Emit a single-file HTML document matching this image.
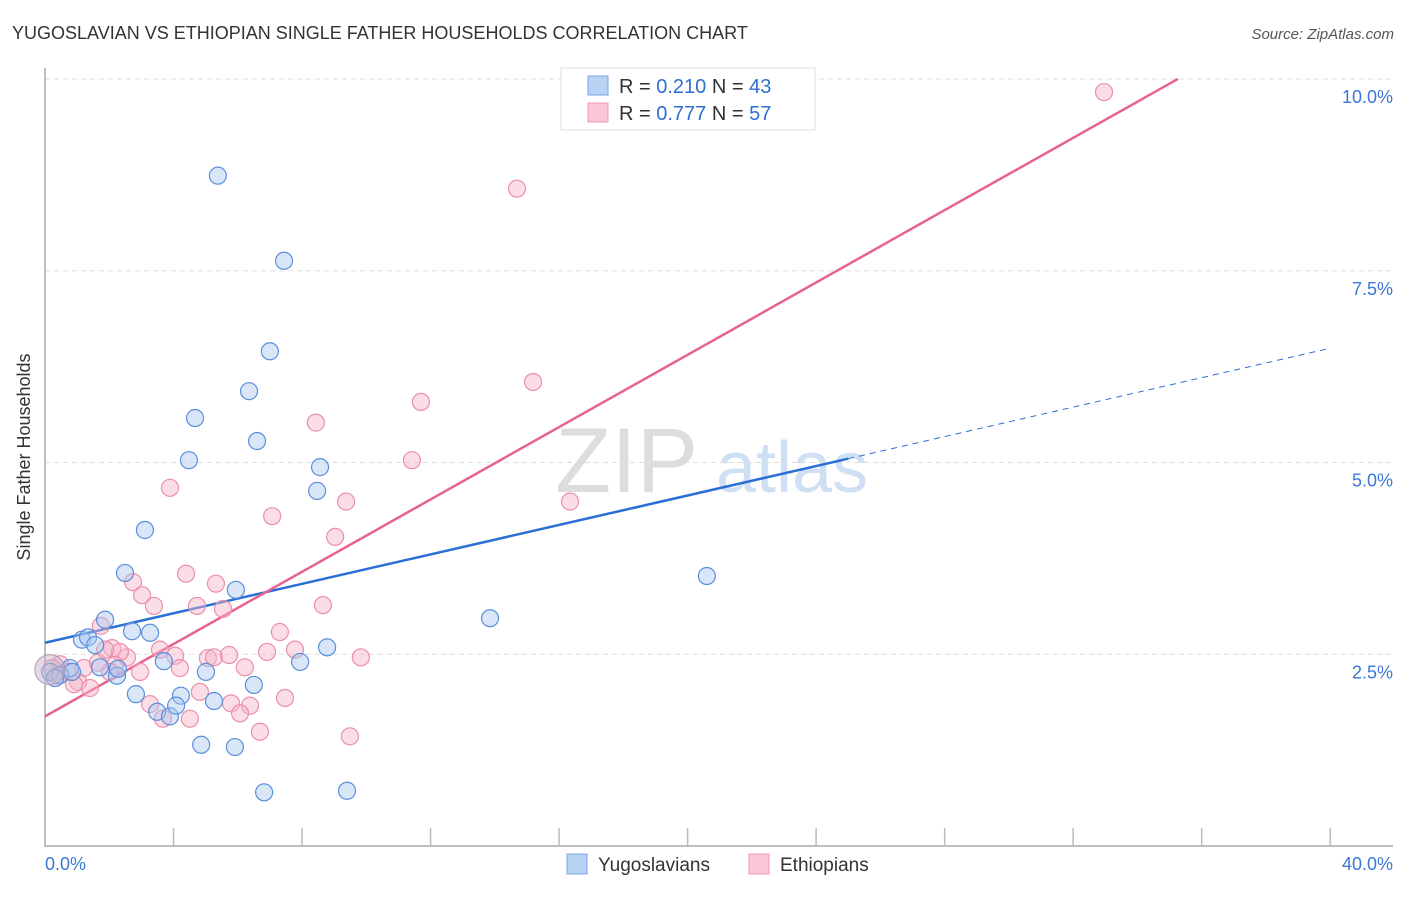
<!DOCTYPE html>
<html><head><meta charset="utf-8"><style>
body{margin:0;background:#fff;font-family:"Liberation Sans",sans-serif}
svg text{font-family:"Liberation Sans",sans-serif}
</style></head><body>
<svg id="chart" width="1406" height="892">
<text x="12" y="39" font-size="18" fill="#333">YUGOSLAVIAN VS ETHIOPIAN SINGLE FATHER HOUSEHOLDS CORRELATION CHART</text>
<text x="1394" y="39" font-size="15" fill="#555" font-style="italic" text-anchor="end">Source: ZipAtlas.com</text>
<text x="30" y="457" font-size="18" fill="#333" text-anchor="middle" transform="rotate(-90 30 457)">Single Father Households</text>
<g>
<text x="555" y="492" font-size="92" font-family="Liberation Serif" fill="#ddd">ZIP</text>
<text x="716" y="492" font-size="72" fill="#cfe0f4">atlas</text>
</g>
<g id="grid"></g><g id="axes"></g><g id="lines"></g><g id="pts"></g>
<g>
<rect x="561" y="68" width="254" height="62" fill="#fff" stroke="#ddd"/>
<rect x="588" y="76" width="20" height="19" fill="#b9d3f5" stroke="#7aa6e0"/>
<rect x="588" y="103" width="20" height="19" fill="#fbc7d6" stroke="#ef98b2"/>
<text x="619" y="93" font-size="20" fill="#333">R = <tspan fill="#2f6fd0">0.210</tspan>   N = <tspan fill="#2f6fd0">43</tspan></text>
<text x="619" y="120" font-size="20" fill="#333">R = <tspan fill="#2f6fd0">0.777</tspan>   N = <tspan fill="#2f6fd0">57</tspan></text>
</g>
<g>
<rect x="567" y="854" width="20" height="20" fill="#b9d3f5" stroke="#7aa6e0"/>
<text x="598" y="871" font-size="19" fill="#333">Yugoslavians</text>
<rect x="749" y="854" width="20" height="20" fill="#fbc7d6" stroke="#ef98b2"/>
<text x="780" y="871" font-size="19" fill="#333">Ethiopians</text>
</g>
</svg>
<script>
const yTicks=[2.5,5,7.5,10];
const yTickLabels=["2.5%","5.0%","7.5%","10.0%"];
const xTickLabels=["0.0%","40.0%"];
const blueX=[5.38,7.44,7.00,6.35,4.67,6.60,4.48,8.56,8.47,3.11,2.49,5.94,20.60,1.87,13.85,2.71,3.27,1.15,1.34,1.56,8.78,3.70,7.94,0.78,1.71,2.24,5.01,0.16,0.47,0.31,2.83,4.23,6.50,5.26,3.49,3.89,4.08,4.86,5.91,6.82,9.40,2.27,0.84];
const blueY=[8.74,7.63,6.45,5.93,5.58,5.28,5.03,4.94,4.63,4.12,3.56,3.34,3.52,2.95,2.97,2.80,2.78,2.69,2.72,2.62,2.59,2.41,2.40,2.32,2.33,2.22,2.27,2.27,2.23,2.19,1.98,1.96,2.10,1.89,1.75,1.69,1.83,1.32,1.29,0.70,0.72,2.31,2.27];
const pinkX=[32.96,14.69,15.19,11.70,8.43,11.42,3.89,9.37,16.34,7.07,9.03,4.39,2.74,5.32,3.02,3.39,4.73,5.54,8.65,1.74,7.31,2.09,2.55,3.58,4.05,5.07,5.26,5.73,6.91,7.78,9.83,2.33,2.18,2.96,6.22,4.20,1.21,0.47,0.22,0.68,1.03,1.40,0.90,4.82,5.79,6.38,7.47,3.27,3.67,4.51,6.07,6.69,9.49,2.02,1.65,1.87,0.37];
const pinkY=[9.83,8.57,6.05,5.79,5.52,5.03,4.67,4.49,4.49,4.30,4.03,3.55,3.44,3.42,3.27,3.13,3.13,3.09,3.14,2.87,2.79,2.58,2.46,2.56,2.48,2.45,2.46,2.49,2.53,2.56,2.46,2.53,2.36,2.27,2.33,2.32,2.32,2.37,2.32,2.27,2.14,2.06,2.11,2.01,1.86,1.83,1.93,1.85,1.66,1.66,1.73,1.49,1.43,2.27,2.39,2.56,2.22];
const blueLine={b0:2.65,slope:0.096,solidTo:25,end:40};
const pinkLine={b0:1.69,slope:0.2357,end:35.26};
const NS="http://www.w3.org/2000/svg";
const X=v=>45+v*32.13, Y=v=>846-v*76.7;
function mk(p,t,a){const e=document.createElementNS(NS,t);for(const k in a)e.setAttribute(k,a[k]);document.getElementById(p).appendChild(e);return e;}
yTicks.forEach((t,i)=>{
 const g=mk('grid','line',{x1:45,x2:1393,y1:Y(t),y2:Y(t),stroke:'#ddd','stroke-dasharray':'5,4'});
 
 
 const l=mk('grid','text',{x:1393,y:Y(t)+24,'font-size':18,fill:'#3a78d4','text-anchor':'end'});
 l.textContent=yTickLabels[i];
 
 
});
const ax=mk('axes','path',{d:'M45,68V846H1393',fill:'none',stroke:'#aaa','stroke-width':1.5});


for(let i=1;i<=10;i++){const t=mk('axes','line',{x1:X(i*4),x2:X(i*4),y1:828,y2:846,stroke:'#bbb','stroke-width':1.5});
 
 }
[[0,'start',45],[1,'end',1393]].forEach(([i,a,x])=>{const l=mk('axes','text',{x:x,y:870,'font-size':18,fill:'#3a78d4','text-anchor':a});l.textContent=xTickLabels[i];
 
 });
function draw(xs,ys,fill,stroke,name){xs.forEach((v,i)=>{const c=mk('pts','circle',{cx:X(v),cy:Y(ys[i]),r:8.5,fill:fill,stroke:stroke,'stroke-width':1.2,'fill-opacity':0.45});
 
 });}
draw(pinkX,pinkY,'#f7b3c8','#eb8fab','ethiopian-point');
draw(blueX,blueY,'#a8c8f0','#5b8fdb','yugoslavian-point');
const big=mk('pts','circle',{cx:X(0.15),cy:Y(2.3),r:15,fill:'#c9b3cc','fill-opacity':0.5,stroke:'#b09ab8'});


const bl=mk('lines','line',{x1:X(0),y1:Y(blueLine.b0),x2:X(blueLine.solidTo),y2:Y(blueLine.b0+blueLine.slope*blueLine.solidTo),stroke:'#2a6fd6','stroke-width':2.5});


const bd=mk('lines','line',{x1:X(blueLine.solidTo),y1:Y(blueLine.b0+blueLine.slope*blueLine.solidTo),x2:X(blueLine.end),y2:Y(blueLine.b0+blueLine.slope*blueLine.end),stroke:'#2a6fd6','stroke-width':1,'stroke-dasharray':'6,5'});


const pl=mk('lines','line',{x1:X(0),y1:Y(pinkLine.b0),x2:X(pinkLine.end),y2:Y(pinkLine.b0+pinkLine.slope*pinkLine.end),stroke:'#e8628e','stroke-width':2.5});


</script>
</body></html>
